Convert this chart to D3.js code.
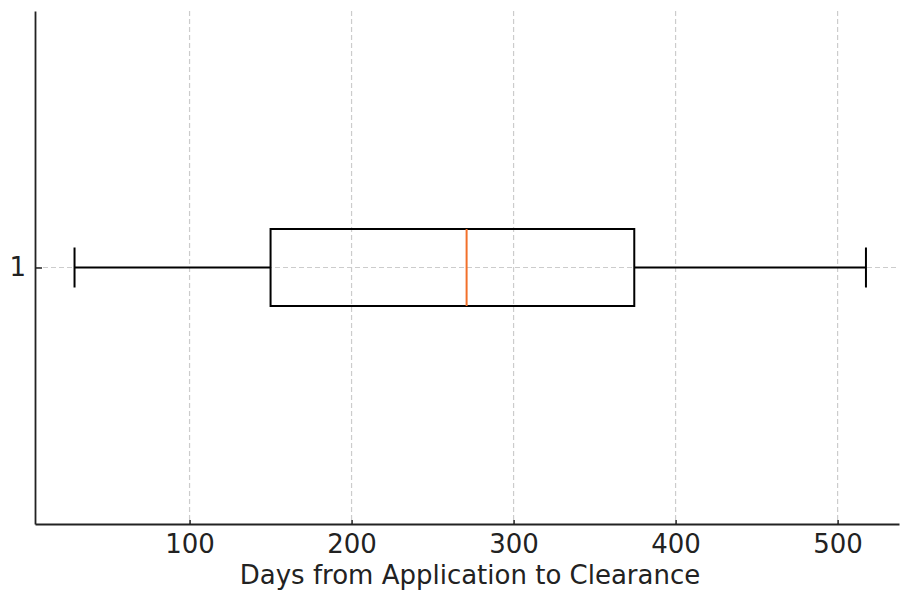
<!DOCTYPE html>
<html>
<head>
<meta charset="utf-8">
<script src="https://cdn.jsdelivr.net/npm/d3@7"></script>
<style>
  body { margin: 0; background: #fff; }
  svg { display: block; font-family: "DejaVu Sans", sans-serif; }
</style>
</head>
<body>
<div id="chart"></div>
<script>
// chart size
var width = 901;
var height = 591;
var margin = { top: 11, right: 2, bottom: 67, left: 35 };

// box plot summary (days)
const categories = ["1"];
const whiskerLow = [29];
const q1 = [150];
const median = [271];
const q3 = [374.5];
const whiskerHigh = [517.5];
const xTicks = [100, 200, 300, 400, 500];
const xLabel = "Days from Application to Clearance";

const stats = categories.map((c, i) => ({
  cat: c, lo: whiskerLow[i], q1: q1[i], med: median[i], q3: q3[i], hi: whiskerHigh[i]
}));

let svg = d3.select("#chart")
  .append("svg")
  .attr("width", width)
  .attr("height", height)
  .append("g")
  .attr("transform", "translate(" + margin.left + "," + margin.top + ")");

let w = width - margin.left - margin.right;
let h = height - margin.top - margin.bottom;

let x = d3.scaleLinear().domain([4.6, 537.9]).range([0, w]);
// one box, centered like matplotlib (positions 0.5..1.5)
let y = d3.scaleLinear().domain([1.5, 0.5]).range([0, h]);

// grid lines
svg.append("g")
  .selectAll("line.vgrid")
  .data(xTicks)
  .enter()
  .append("line")
  .attr("x1", d => x(d)).attr("x2", d => x(d))
  .attr("y1", 0).attr("y2", h)
  .style("stroke", "#cccccc")
  .style("stroke-width", 1.2)
  .style("stroke-dasharray", "5,3");

svg.append("g")
  .selectAll("line.hgrid")
  .data(stats)
  .enter()
  .append("line")
  .attr("x1", 0).attr("x2", w)
  .attr("y1", d => y(+d.cat)).attr("y2", d => y(+d.cat))
  .style("stroke", "#cccccc")
  .style("stroke-width", 1.2)
  .style("stroke-dasharray", "5,3");

// axes
let xAxis = svg.append("g")
  .attr("transform", "translate(0," + h + ")")
  .call(d3.axisBottom(x).tickValues(xTicks).tickSizeInner(-4).tickSizeOuter(0).tickPadding(11));

let yAxis = svg.append("g")
  .call(d3.axisLeft(y).tickValues([1]).tickFormat(d3.format("d")).tickSizeInner(-7).tickSizeOuter(0).tickPadding(9));

[xAxis, yAxis].forEach(a => {
  a.select(".domain").style("stroke", "#222").style("stroke-width", 1.8);
  a.selectAll(".tick line").style("stroke", "#222").style("stroke-width", 1.5);
  a.selectAll(".tick text")
    .style("font-family", "DejaVu Sans")
    .style("font-size", "26px")
    .style("fill", "#222");
});

// x-axis label
svg.append("text")
  .attr("text-anchor", "middle")
  .attr("x", (238 + 702) / 2 - margin.left)
  .attr("y", h + 60)
  .style("font-size", "26px")
  .style("fill", "#222")
  .text(xLabel);

// box plot
let boxHalf = 38.5;
let capHalf = 20;
let g = svg.selectAll("g.box").data(stats).enter().append("g").attr("class", "box");

// whiskers
g.append("line")
  .attr("x1", d => x(d.lo)).attr("x2", d => x(d.q1))
  .attr("y1", d => y(+d.cat)).attr("y2", d => y(+d.cat))
  .style("stroke", "#000").style("stroke-width", 2);
g.append("line")
  .attr("x1", d => x(d.q3)).attr("x2", d => x(d.hi))
  .attr("y1", d => y(+d.cat)).attr("y2", d => y(+d.cat))
  .style("stroke", "#000").style("stroke-width", 2);

// caps
g.selectAll("line.cap")
  .data(d => [d.lo, d.hi].map(v => ({ v: v, c: +d.cat })))
  .enter()
  .append("line")
  .attr("x1", d => x(d.v)).attr("x2", d => x(d.v))
  .attr("y1", d => y(d.c) - capHalf).attr("y2", d => y(d.c) + capHalf)
  .style("stroke", "#000").style("stroke-width", 2);

// box
g.append("rect")
  .attr("x", d => x(d.q1))
  .attr("y", d => y(+d.cat) - boxHalf)
  .attr("width", d => x(d.q3) - x(d.q1))
  .attr("height", boxHalf * 2)
  .style("fill", "none")
  .style("stroke", "#000")
  .style("stroke-width", 2);

// median
g.append("line")
  .attr("x1", d => x(d.med)).attr("x2", d => x(d.med))
  .attr("y1", d => y(+d.cat) - boxHalf).attr("y2", d => y(+d.cat) + boxHalf)
  .style("stroke", "#f2702a").style("stroke-width", 2);
</script>
</body>
</html>
